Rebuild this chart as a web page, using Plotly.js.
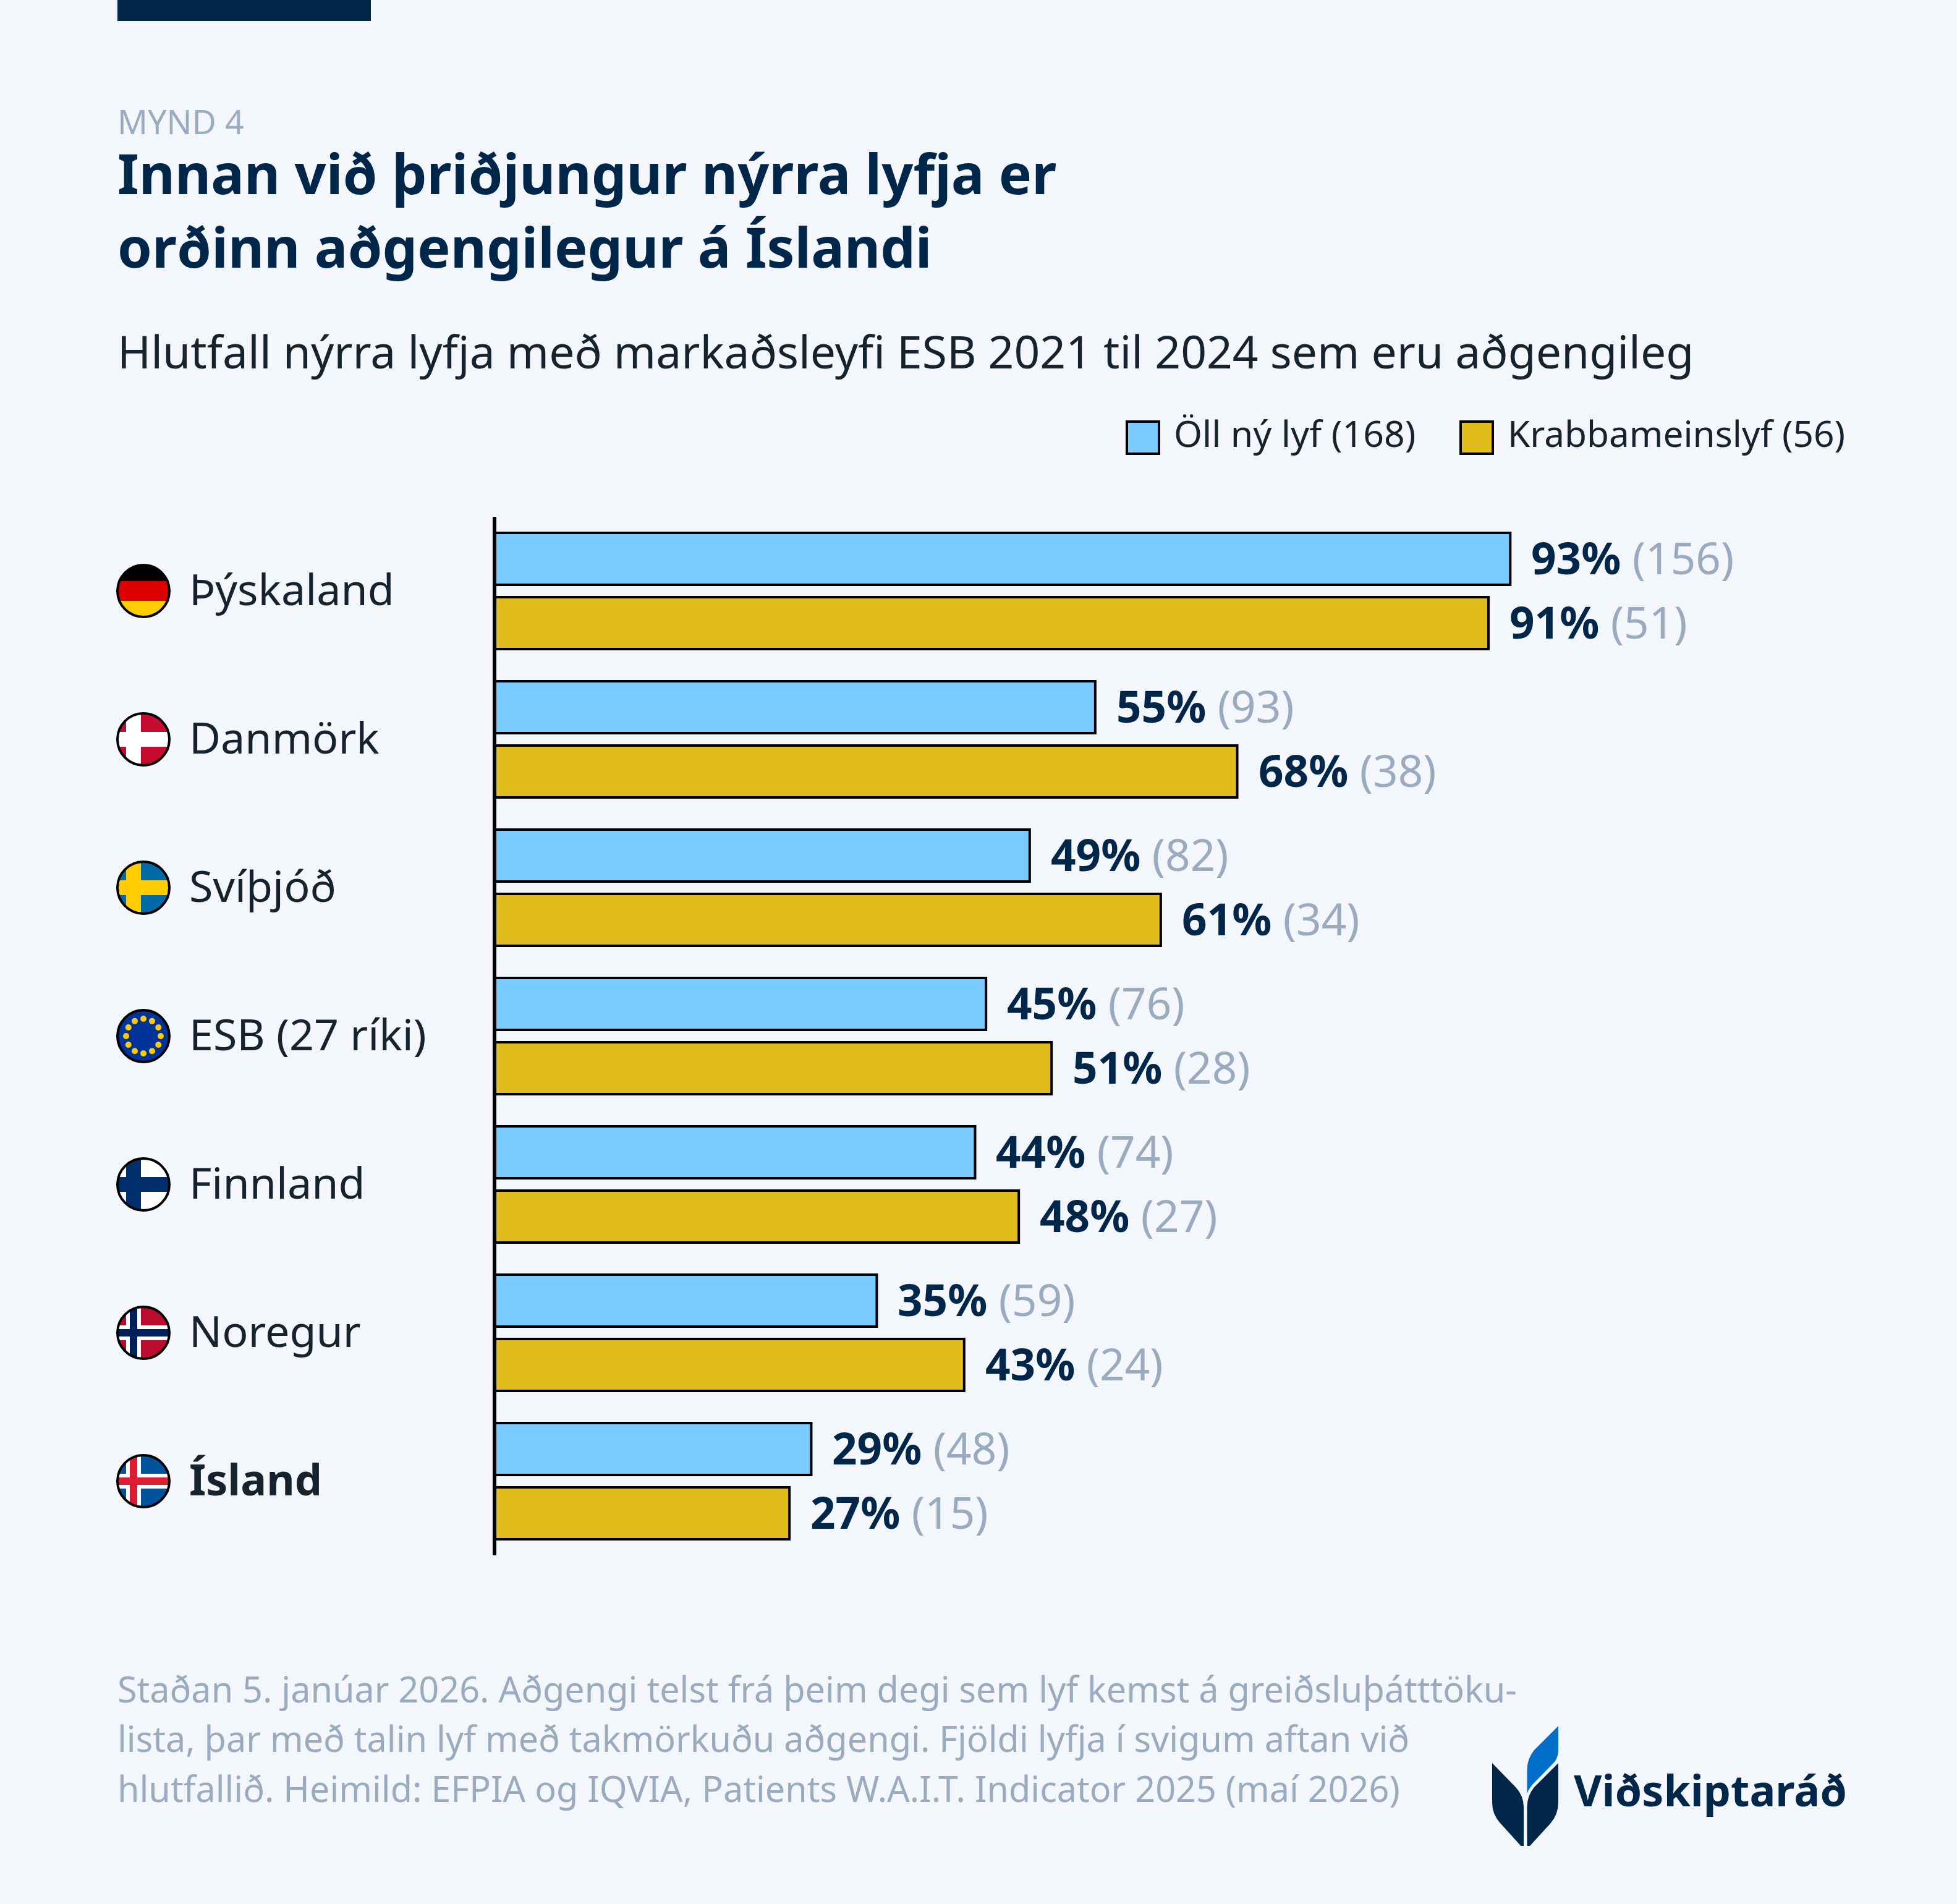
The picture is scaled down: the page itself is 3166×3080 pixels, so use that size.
<!DOCTYPE html>
<html>
<head>
<meta charset="utf-8">
<script src="https://cdn.plot.ly/plotly-3.0.1.min.js"></script>
<style>html,body{margin:0;padding:0;background:#f3f7fc}</style>
</head>
<body>
<div id="myDiv"></div>
<script>
var countries = ['Þýskaland', 'Danmörk', 'Svíþjóð', 'ESB (27 ríki)', 'Finnland', 'Noregur', 'Ísland'];
var allPct = [93, 55, 49, 45, 44, 35, 29];
var allCount = [156, 93, 82, 76, 74, 59, 48];
var cancerPct = [91, 68, 61, 51, 48, 43, 27];
var cancerCount = [51, 38, 34, 28, 27, 24, 15];
var seriesNames = ['Öll ný lyf (168)', 'Krabbameinslyf (56)'];

var titleLines = ['Innan við þriðjungur nýrra lyfja er', 'orðinn aðgengilegur á Íslandi'];
var subtitle = 'Hlutfall nýrra lyfja með markaðsleyfi ESB 2021 til 2024 sem eru aðgengileg';
var footLines = [
  'Staðan 5. janúar 2026. Aðgengi telst frá þeim degi sem lyf kemst á greiðsluþátttöku-',
  'lista, þar með talin lyf með takmörkuðu aðgengi. Fjöldi lyfja í svigum aftan við',
  'hlutfallið. Heimild: EFPIA og IQVIA, Patients W.A.I.T. Indicator 2025 (maí 2026)'
];

var W = 3166, H = 3080;
var left = 800, top_ = 836, bottom = 2516;
var plotW = W - left, plotH = bottom - top_;
var navy = '#00264a', grey = '#9aabc0', ink = '#16232f', blue = '#79caff', gold = '#e1bc1d';
var font = 'Noto Sans';
var descent = 0.293;

// page pixels to paper fractions, everything outside the bars hangs off these
function px(x) { return (x - left) / plotW; }
function py(y) { return (bottom - y) / plotH; }

function textAt(text, x, baseline, size, color, anchor) {
  return {
    text: text, xref: 'paper', yref: 'paper', x: px(x), y: py(baseline + descent * size),
    xanchor: anchor || 'left', yanchor: 'bottom', showarrow: false, align: 'left',
    font: {family: font, size: size, color: color}
  };
}

function svgImage(svg, x, y, w, h) {
  return {
    source: 'data:image/svg+xml;utf8,' + encodeURIComponent(svg),
    xref: 'paper', yref: 'paper', x: px(x), y: py(y), sizex: w / plotW, sizey: h / plotH,
    xanchor: 'left', yanchor: 'top', sizing: 'stretch', layer: 'above'
  };
}

function cross(bg, colors) {
  // colors: outer cross then optional inner cross
  var s = '<rect x="-44" y="-44" width="88" height="88" fill="' + bg + '"/>';
  s += '<rect x="-28" y="-44" width="24" height="88" fill="' + colors[0] + '"/>';
  s += '<rect x="-44" y="-12" width="88" height="24" fill="' + colors[0] + '"/>';
  if (colors[1]) {
    s += '<rect x="-22" y="-44" width="12" height="88" fill="' + colors[1] + '"/>';
    s += '<rect x="-44" y="-6" width="88" height="12" fill="' + colors[1] + '"/>';
  }
  return s;
}

function euStars() {
  var s = '<rect x="-44" y="-44" width="88" height="88" fill="#003399"/>';
  for (var i = 0; i < 12; i++) {
    var a = i * Math.PI / 6;
    s += '<circle cx="' + (28 * Math.cos(a)) + '" cy="' + (28 * Math.sin(a)) + '" r="5" fill="#ffcc00"/>';
  }
  return s;
}

var germany = '<rect x="-44" y="-44" width="88" height="28" fill="#000"/>' +
  '<rect x="-44" y="-16" width="88" height="32" fill="#dd0000"/>' +
  '<rect x="-44" y="16" width="88" height="28" fill="#ffce00"/>';

var flagArt = [
  germany,
  cross('#c60c30', ['#fff']),
  cross('#006aa7', ['#fecc00']),
  euStars(),
  cross('#fff', ['#002f6c']),
  cross('#ba0c2f', ['#fff', '#00205b']),
  cross('#02529c', ['#fff', '#dc1e35'])
];

function flagSvg(art) {
  return '<svg xmlns="http://www.w3.org/2000/svg" viewBox="-44 -44 88 88" width="88" height="88">' +
    '<clipPath id="c"><circle r="42"/></clipPath><g clip-path="url(#c)">' + art + '</g>' +
    '<circle r="42" fill="none" stroke="#000" stroke-width="4"/></svg>';
}

var logoSvg = '<svg xmlns="http://www.w3.org/2000/svg" viewBox="2410 2790 115 200" width="115" height="200">' +
  '<path fill="#006fca" d="M2521 2794V2833Q2521 2844 2515 2852L2480 2888Q2473 2896 2470.5 2903V2865Q2470.5 2847 2482 2833Z"/>' +
  '<path fill="#00264a" d="M2521 2854V2918Q2521 2937 2508 2952L2475 2988H2470.5V2925Q2470.5 2907 2482 2893Z"/>' +
  '<path fill="#00264a" d="M2414 2854V2918Q2414 2936 2426 2950L2460.5 2988H2465V2925Q2465 2907 2452 2893Z"/>' +
  '</svg>';

var trace1 = {
  y: countries, x: allPct, name: seriesNames[0], type: 'bar', orientation: 'h',
  marker: {color: blue, line: {color: '#000', width: 4}}, hoverinfo: 'skip'
};
var trace2 = {
  y: countries, x: cancerPct, name: seriesNames[1], type: 'bar', orientation: 'h',
  marker: {color: gold, line: {color: '#000', width: 4}}, hoverinfo: 'skip'
};

var annotations = [];
annotations.push(textAt('MYND 4', 188, 219, 54, grey));
annotations.push(textAt('<b>' + titleLines[0] + '</b>', 188, 316, 89.6, navy));
annotations.push(textAt('<b>' + titleLines[1] + '</b>', 188, 435, 89.6, navy));
annotations.push(textAt(subtitle, 188, 598, 73.2, ink));
annotations.push(textAt(seriesNames[0], 1897, 725, 59, ink));
annotations.push(textAt(seriesNames[1], 2437, 725, 58.5, ink));
footLines.forEach(function(line, i) {
  annotations.push(textAt(line, 188, 2756 + i * 80.5, 57.5, grey));
});
annotations.push(textAt('<b>Viðskiptaráð</b>', 2544, 2924, 70, navy));

function valueLabel(country, pct, count, shift) {
  return {
    text: '<b>' + pct + '%</b> <span style="color:' + grey + '">(' + count + ')</span>',
    xref: 'x', yref: 'y', x: pct, y: country, xshift: 32, yshift: shift,
    xanchor: 'left', yanchor: 'middle', showarrow: false,
    font: {family: font, size: 71, color: navy}
  };
}

var images = [];
countries.forEach(function(c, i) {
  annotations.push({
    text: c === 'Ísland' ? '<b>' + c + '</b>' : c,
    xref: 'paper', yref: 'y', x: px(304), y: c, yshift: 4, xanchor: 'left', yanchor: 'middle',
    showarrow: false, font: {family: font, size: 70, color: ink}
  });
  annotations.push(valueLabel(c, allPct[i], allCount[i], 55));
  annotations.push(valueLabel(c, cancerPct[i], cancerCount[i], -49));
  images.push(svgImage(flagSvg(flagArt[i]), 188, 912 + i * 240, 88, 88));
});
images.push(svgImage(logoSvg, 2410, 2788, 115, 200));

var shapes = [
  {type: 'rect', xref: 'paper', yref: 'paper', x0: px(190), x1: px(600), y0: py(0), y1: py(34),
   fillcolor: navy, line: {width: 0}},
  {type: 'rect', xref: 'paper', yref: 'paper', x0: px(1823), x1: px(1875), y0: py(682), y1: py(734),
   fillcolor: blue, line: {color: '#000', width: 4}},
  {type: 'rect', xref: 'paper', yref: 'paper', x0: px(2363), x1: px(2415), y0: py(682), y1: py(734),
   fillcolor: gold, line: {color: '#000', width: 4}}
];

var layout = {
  width: W, height: H,
  margin: {l: left, r: 0, t: top_, b: H - bottom, pad: 0},
  paper_bgcolor: '#f3f7fc', plot_bgcolor: '#f3f7fc',
  barmode: 'group', bargap: 0.1333, bargroupgap: 0.1923,
  showlegend: false,
  xaxis: {range: [0, plotW / 17.67], showgrid: false, showticklabels: false, ticks: '',
    zeroline: true, zerolinecolor: '#000', zerolinewidth: 6, zerolinelayer: 'above traces'},
  yaxis: {type: 'category', autorange: 'reversed', showgrid: false, showticklabels: false, ticks: '',
    zeroline: false, showline: false},
  annotations: annotations, shapes: shapes, images: images
};

Plotly.newPlot('myDiv', [trace1, trace2], layout, {displayModeBar: false, staticPlot: true});
</script>
</body>
</html>
